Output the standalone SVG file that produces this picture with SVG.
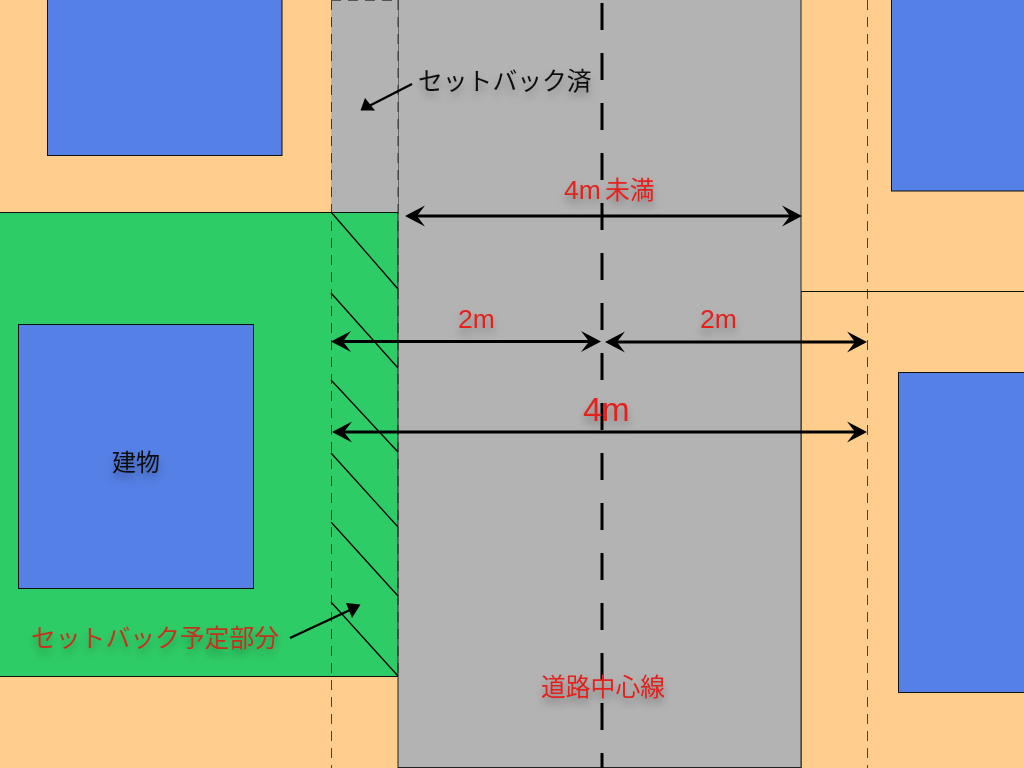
<svg xmlns="http://www.w3.org/2000/svg" width="1024" height="768" viewBox="0 0 1024 768">
<style>
.lot{fill:#ffce8c;stroke:#111;stroke-width:1}
.bld{fill:#5580e6;stroke:#111;stroke-width:1}
.dash{fill:none;stroke:#111;stroke-width:1;stroke-dasharray:10 7}
.hatch{fill:none;stroke:#000;stroke-width:1.3}
.dim{fill:none;stroke:#000;stroke-width:2.8;marker-start:url(#stealth);marker-end:url(#stealth)}
.lead{fill:none;stroke:#000;stroke-width:2.4}
.t{font-family:"Liberation Sans","Noto Sans CJK JP",sans-serif;font-size:24.800px;filter:url(#sh)}
.r{fill:#e3201f}
.k{fill:#111}
.rg{fill:#c4331f}
.lat{font-size:26.500px}
</style>
<defs>
<filter id="sh" x="-20%" y="-40%" width="140%" height="200%"><feDropShadow dx="0" dy="6" stdDeviation="4" flood-color="#000" flood-opacity="0.3"/></filter>
<marker id="stealth" viewBox="-13 -12 22 24" markerUnits="userSpaceOnUse" markerWidth="22" markerHeight="24" refX="0" refY="0" orient="auto-start-reverse"><path d="M8 0L-12 -10.500L-4 0L-12 10.500Z" fill="#000"/></marker>
</defs>
<rect id="ground" width="1024" height="768" fill="#ffce8c"/>
<g id="plots">
<rect id="lot-right-lower" class="lot" x="801" y="291.500" width="240" height="490"/>
<rect id="lot-left" x="-5" y="212.500" width="403.500" height="464" fill="#2ecc66" stroke="#111" stroke-width="1"/>
<rect id="road" x="398" y="-2" width="403" height="769.500" fill="#b2b3b2" stroke="#222" stroke-width="1"/>
<rect id="setback-done" x="331" y="0" width="67" height="212" fill="#b2b3b2"/>
</g>
<g id="buildings">
<rect id="building-nw" class="bld" x="47.500" y="-5" width="234.500" height="160.500"/>
<rect id="building-ne" class="bld" x="891.500" y="-5" width="140" height="196"/>
<rect id="building-se" class="bld" x="898.500" y="372.500" width="140" height="320"/>
<g id="building-main"><rect class="bld" x="18.500" y="324.500" width="235" height="264"/><text class="t k" x="136" y="471" text-anchor="middle" style="font-size:24px">建物</text></g>
</g>
<g id="hatching">
<path class="hatch" d="M331 212L398 289M331 293L398 368M331 380L398 452M331 453L398 527M331 522L398 596M331 602L398 676"/>
</g>
<g id="guides">
<path class="dash" d="M331.500 0V768M398 0V676M867.500 0V768" stroke-opacity="0.75"/>
<path d="M331 0.500H398" fill="none" stroke="#555" stroke-width="1" stroke-dasharray="10 7"/>
<path d="M602 3V768" fill="none" stroke="#000" stroke-width="3" stroke-dasharray="27 23"/>
</g>
<g id="connectors">
<path class="dim" d="M413 216H794"/>
<path class="dim" d="M339 341.500H593"/>
<path class="dim" d="M613 342H859"/>
<path class="dim" d="M340 432H859"/>
<path class="lead" d="M412 84L370 105.500"/>
<path d="M360.500 110.500L365 98L375 110.500Z" fill="#000"/>
<path class="lead" d="M290 638L350 610"/>
<path d="M360.500 604.500L346 603L352 618Z" fill="#000"/>
</g>
<g id="labels">
<text class="t k" x="418" y="90">セットバック済</text>
<text class="t r" x="564" y="199"><tspan class="lat">4m</tspan><tspan x="605">未満</tspan></text>
<text class="t r lat" x="458" y="328">2m</text>
<text class="t r lat" x="700" y="328">2m</text>
<text class="t r" x="583" y="421" style="font-size:33.500px">4m</text>
<text class="t rg" x="31" y="647">セットバック予定部分</text>
<text class="t r" x="541" y="696">道路中心線</text>
</g>
</svg>
